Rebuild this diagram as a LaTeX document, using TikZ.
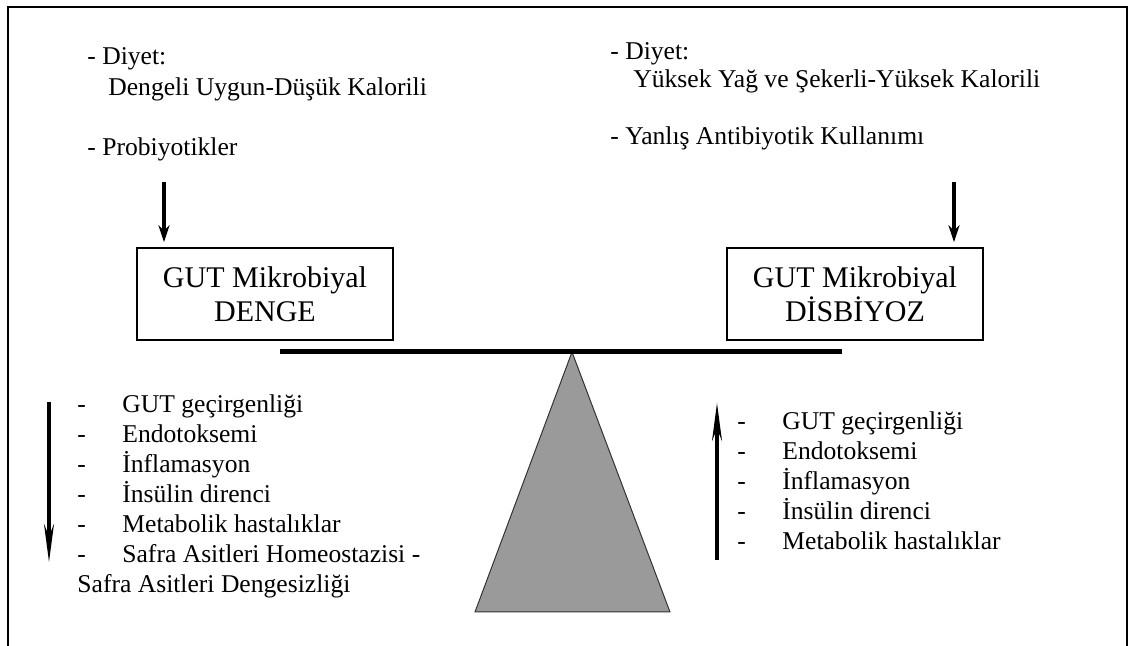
\documentclass[tikz,border=0pt]{standalone}
\usepackage{fontspec}
\setmainfont{Liberation Serif}
\usetikzlibrary{arrows.meta,positioning}
\definecolor{fulcrumgray}{RGB}{154,154,154}
\newcommand{\itm}[1]{\makebox[22.5pt][l]{-}#1}

\begin{document}
\begin{tikzpicture}[
    x=0.5pt, y=-0.5pt,
    txt/.style={anchor=base west, inner sep=0pt, font=\fontsize{12.8}{15}\selectfont},
    lst/.style={anchor=north west, inner sep=0pt, align=left, font=\fontsize{12.8}{15}\selectfont},
    box/.style={rectangle, draw, line width=0.7pt, minimum width=128pt, minimum height=46pt, align=center, font=\fontsize{15}{17}\selectfont},
    arrow/.style={-{Stealth[length=8.5pt, width=5.5pt]}, line width=1.7pt},
    trend/.style={-{Stealth[length=19pt, width=5pt]}, line width=1.7pt}
]
\useasboundingbox (0,0) rectangle (1131,646);

% Frame
\draw[line width=1pt] (8,646) -- (8,7) -- (1127,7) -- (1127,646);

% Left inputs
\node[txt] (dietL) at (87,65) {- Diyet:};
\node[txt] (foodL) at ([shift={(21,31)}]dietL.base west) {Dengeli Uygun-Düşük Kalorili};
\node[txt] (probL) at ([shift={(0,91)}]dietL.base west) {- Probiyotikler};

% Right inputs
\node[txt] (dietR) at (610,60) {- Diyet:};
\node[txt] (foodR) at ([shift={(23,28)}]dietR.base west) {Yüksek Yağ ve Şekerli-Yüksek Kalorili};
\node[txt] (abR) at ([shift={(0,85)}]dietR.base west) {- Yanlış Antibiyotik Kullanımı};

% Boxes
\node[box] (dengeL) at (265,294) {GUT Mikrobiyal\\DENGE};
\node[box] (disbR) at (855,294) {GUT Mikrobiyal\\DİSBİYOZ};

% Input arrows
\coordinate (inL) at (164,182);
\coordinate (inR) at (954,182);
\draw[arrow, shorten >=2.5pt] (inL) -- (inL |- dengeL.north);
\draw[arrow, shorten >=2.5pt] (inR) -- (inR |- disbR.north);

% Scale
\coordinate (apex) at (572,352);
\filldraw[fill=fulcrumgray, draw=black!80, line width=0.5pt] (apex) -- (670,612) -- (475,612) -- cycle;
\draw[line width=2.5pt] (280,352) -- (842,352);

% Left effects
\node[lst] (downL) at (77,394) {\itm{GUT geçirgenliği}\\
    \itm{Endotoksemi}\\
    \itm{İnflamasyon}\\
    \itm{İnsülin direnci}\\
    \itm{Metabolik hastalıklar}\\
    \itm{Safra Asitleri Homeostazisi -}\\
    Safra Asitleri Dengesizliği};

% Right effects
\node[lst] (upR) at (737,411) {\itm{GUT geçirgenliği}\\
    \itm{Endotoksemi}\\
    \itm{İnflamasyon}\\
    \itm{İnsülin direnci}\\
    \itm{Metabolik hastalıklar}};

% Trend arrows
\coordinate (dnTop) at (49,402);
\coordinate (dnEnd) at (49,562);
\coordinate (upBot) at (717,560);
\coordinate (upTop) at (717,403);
\draw[trend] (dnTop) -- (dnEnd);
\draw[trend] (upBot) -- (upTop);

\end{tikzpicture}
\end{document}
